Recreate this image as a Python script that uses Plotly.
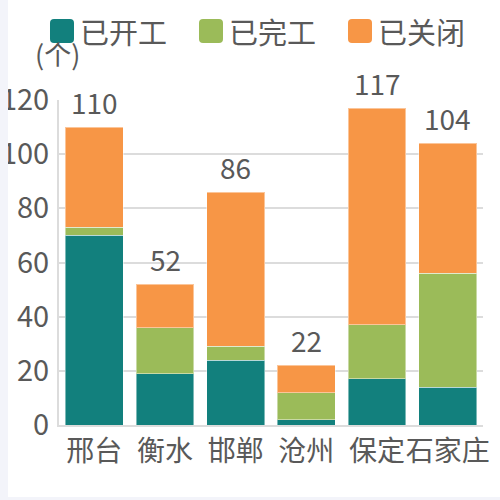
import plotly.graph_objects as go

categories = ["邢台", "衡水", "邯郸", "沧州", "保定", "石家庄"]
started = [70, 19, 24, 2, 17, 14]
completed = [3, 17, 5, 10, 20, 42]
closed = [37, 16, 57, 10, 80, 48]
series_names = ["已开工", "已完工", "已关闭"]
series_colors = ["#12807d", "#9bbb59", "#f79646"]
y_ticks = [0, 20, 40, 60, 80, 100, 120]
unit_label = "(个)"

totals = [a + b + c for a, b, c in zip(started, completed, closed)]

FONT = "Noto Sans CJK SC, Microsoft YaHei, sans-serif"
TXT = "#595959"
W, H = 500, 500
L, R, T, B = 59, 17, 100, 75
PW, PH = W - L - R, H - T - B


def px(x):
    return (x - L) / PW


def py(y):
    return (H - B - y) / PH


def rounded_rect(x0, y0, x1, y1, r):
    # pixel coords -> paper path
    pts = [
        ("M", x0 + r, y0), ("L", x1 - r, y0), ("Q", x1, y0, x1, y0 + r),
        ("L", x1, y1 - r), ("Q", x1, y1, x1 - r, y1), ("L", x0 + r, y1),
        ("Q", x0, y1, x0, y1 - r), ("L", x0, y0 + r), ("Q", x0, y0, x0 + r, y0),
    ]
    out = []
    for p in pts:
        cmd, coords = p[0], p[1:]
        s = []
        for i in range(0, len(coords), 2):
            s.append(f"{px(coords[i]):.5f},{py(coords[i + 1]):.5f}")
        out.append(cmd + " ".join(s))
    return " ".join(out) + " Z"


fig = go.Figure()
for name, vals, col in zip(series_names, [started, completed, closed], series_colors):
    fig.add_trace(go.Bar(
        x=categories, y=vals, name=name,
        marker=dict(color=col, line=dict(color="rgba(255,255,255,0.45)", width=1)),
        showlegend=False,
    ))

annotations = []
for c, t in zip(categories, totals):
    annotations.append(dict(x=c, y=t, xref="x", yref="y", text=str(t), showarrow=False,
                            yanchor="bottom", yshift=3,
                            font=dict(family=FONT, size=28, color=TXT)))

shapes = []
# custom legend
legend_x = [50, 199, 348]
for name, col, lx in zip(series_names, series_colors, legend_x):
    shapes.append(dict(type="path", xref="paper", yref="paper",
                       path=rounded_rect(lx, 19, lx + 24, 43, 4),
                       fillcolor=col, line=dict(width=0), layer="above"))
    annotations.append(dict(x=px(lx + 28), y=py(31), xref="paper", yref="paper", text=name,
                            showarrow=False, xanchor="left", yanchor="middle",
                            font=dict(family=FONT, size=29, color=TXT)))

annotations.append(dict(x=px(57), y=py(53), xref="paper", yref="paper", text=unit_label,
                        showarrow=False, xanchor="center", yanchor="middle",
                        font=dict(family=FONT, size=27, color=TXT)))

# page margins (left strip and bottom strip)
shapes.append(dict(type="rect", xref="paper", yref="paper", x0=px(-5), x1=px(8), y0=py(505), y1=py(-5),
                   fillcolor="#f3f4fa", line=dict(width=0), layer="above"))
shapes.append(dict(type="rect", xref="paper", yref="paper", x0=px(-5), x1=px(505), y0=py(505), y1=py(497),
                   fillcolor="#f3f4fa", line=dict(width=0), layer="above"))

fig.update_layout(
    width=W, height=H,
    margin=dict(l=L, r=R, t=T, b=B, pad=0),
    barmode="stack", bargap=0.18,
    paper_bgcolor="white", plot_bgcolor="white",
    font=dict(family=FONT, size=28, color=TXT),
    xaxis=dict(showgrid=False, showline=True, linecolor="#dcdcdc", linewidth=2,
               ticks="", tickangle=0, automargin=False,
               tickfont=dict(size=28, color=TXT), fixedrange=True),
    yaxis=dict(range=[0, 120], tickvals=y_ticks, showgrid=True, gridcolor="#dcdcdc", gridwidth=2,
               showline=True, linecolor="#dcdcdc", linewidth=2, zeroline=False, automargin=False,
               ticks="", ticklabelstandoff=2, tickfont=dict(size=29, color=TXT)),
    annotations=annotations, shapes=shapes,
)

fig.write_html(
    "out.html",
    config={"displayModeBar": False},
    post_script="document.body.style.margin='0';document.body.style.overflow='hidden';",
)
